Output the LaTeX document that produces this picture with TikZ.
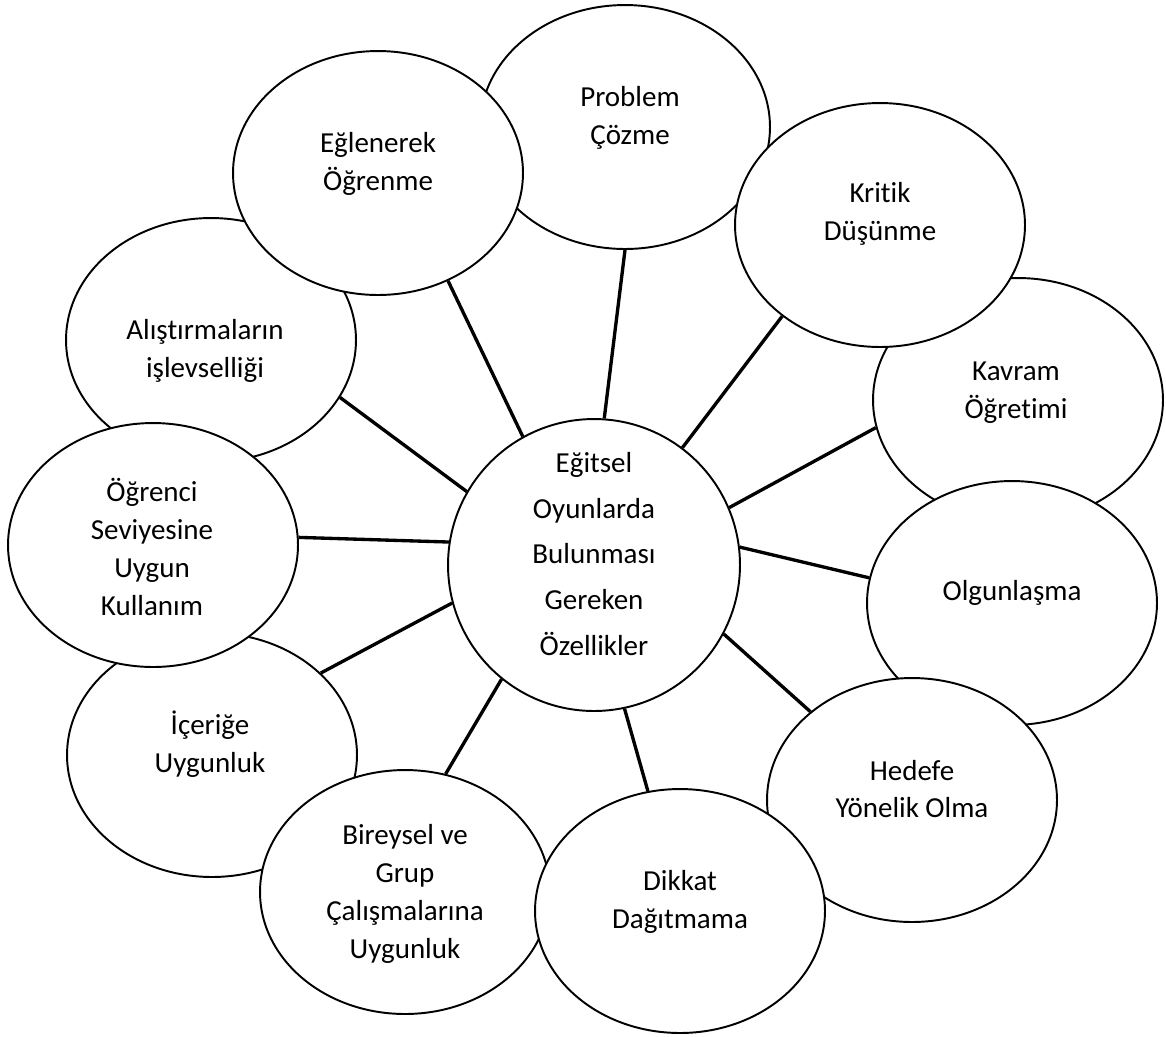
\documentclass[tikz,border=0pt]{standalone}
\usepackage{fontspec}
\setmainfont{Carlito}[Ligatures=NoCommon]
\usepackage{tikz}
\usetikzlibrary{shapes.geometric}

\begin{document}
\begin{tikzpicture}[x=0.02cm, y=-0.02cm,
    oval/.style={draw, line width=1.1pt, fill=white, ellipse, inner sep=0pt,
                 minimum width=5.8cm, minimum height=4.88cm},
    hubc/.style={draw, line width=1.1pt, fill=white, circle, inner sep=0pt,
                 minimum size=5.84cm},
    txt/.style={align=center, inner sep=0pt, font=\fontsize{16.5}{21.5}\selectfont},
    link/.style={line width=1.9pt}]
  \fill[white] (0,0) rectangle (1166,1036);
  \useasboundingbox (0,0) rectangle (1166,1036);

  % outer ovals, back to front
  \node[oval] (prob) at (625,127) {};
  \node[txt] (prob-t) at (630,118) {Problem\\Çözme};
  \node[oval] (alis) at (211,340) {};
  \node[txt] (alis-t) at (205,351) {Alıştırmaların\\işlevselliği};
  \node[oval] (icer) at (212,755) {};
  \node[txt] (icer-t) at (210,744) {İçeriğe\\Uygunluk};
  \node[oval] (kavr) at (1018,400) {};
  \node[txt] (kavr-t) at (1016,393) {Kavram\\Öğretimi};
  \node[oval] (egl) at (378,173) {};
  \node[txt] (egl-t) at (378,164) {Eğlenerek\\Öğrenme};
  \node[oval] (krit) at (880,225) {};
  \node[txt] (krit-t) at (880,214) {Kritik\\Düşünme};
  \node[oval] (ogr) at (153,545) {};
  \node[txt] (ogr-t) at (152,547) {Öğrenci\\Seviyesine\\Uygun\\Kullanım};
  \node[oval] (birey) at (405,892) {};
  \node[txt] (birey-t) at (405,894) {Bireysel ve\\Grup\\Çalışmalarına\\Uygunluk};
  \node[oval] (olg) at (1012,603) {};
  \node[txt] (olg-t) at (1012,593) {Olgunlaşma};
  \node[oval] (hedef) at (912,800) {};
  \node[txt] (hedef-t) at (912,789) {Hedefe\\Yönelik Olma};
  \node[oval] (dikkat) at (680,911) {};
  \node[txt] (dikkat-t) at (680,902) {Dikkat\\Dağıtmama};

  % centre
  \node[hubc] (hub) at (594,565) {};
  \node[txt, font=\fontsize{16.5}{26}\selectfont] (hub-t) at (594,554)
    {Eğitsel\\Oyunlarda\\Bulunması\\Gereken\\Özellikler};

  % spokes
  \draw[link] (hub.119.6) -- (egl.-57.7);
  \draw[link] (hub.86.8) -- (prob.-90.5);
  \draw[link] (hub.53.6) -- (krit.223.2);
  \draw[link] (hub.150.5) -- (alis.-24.6);
  \draw[link] (hub.23.2) -- (kavr.191.3);
  \draw[link] (hub.171.5) -- (ogr.3.1);
  \draw[link] (hub.7.9) -- (olg.170.2);
  \draw[link] (hub.195) -- (icer.37);
  \draw[link] (hub.-28.7) -- (hedef.139.3);
  \draw[link] (hub.231.1) -- (birey.71);
  \draw[link] (hub.282.3) -- (dikkat.105);
\end{tikzpicture}
\end{document}
